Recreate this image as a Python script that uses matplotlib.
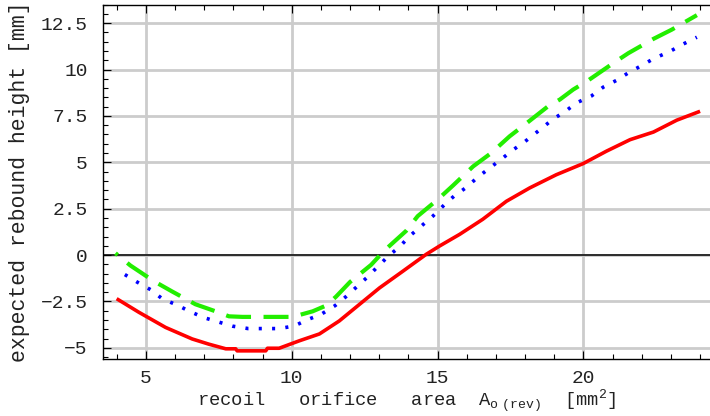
import matplotlib
matplotlib.use("Agg")
import matplotlib.pyplot as plt
import numpy as np

plt.rcParams['font.family'] = ['Liberation Mono', 'DejaVu Sans']
plt.rcParams['lines.scale_dashes'] = False

# solid red curve
red_x = [4.0, 4.76, 5.68, 6.59, 7.16, 7.74, 8.08, 8.13, 9.11, 9.17, 9.57, 10.26, 10.95,
         11.63, 12.32, 13.01, 13.81, 14.61, 15.07, 15.76, 16.55, 17.36, 18.16, 19.07,
         19.99, 20.79, 21.6, 22.4, 23.2, 24.0]
red_y = [-2.35, -3.08, -3.9, -4.52, -4.8, -5.05, -5.05, -5.16, -5.16, -5.02, -5.02, -4.62,
         -4.25, -3.55, -2.66, -1.77, -0.87, 0.04, 0.49, 1.12, 1.93, 2.9, 3.62, 4.33,
         4.93, 5.6, 6.22, 6.63, 7.27, 7.75]

# dashed green curve
green_x = [3.96, 4.47, 5.27, 5.9, 6.7, 7.39, 7.85, 8.31, 9.0, 10.03, 10.72, 11.18, 11.52,
           12.0, 12.72, 13.18, 13.92, 14.32, 15.01, 15.53, 16.22, 16.84, 17.47, 17.99,
           18.79, 19.19, 19.65, 20.17, 21.03, 21.54, 22.4, 23.03, 23.89]
green_y = [0.1, -0.56, -1.4, -1.96, -2.65, -3.03, -3.3, -3.33, -3.33, -3.33, -3.03, -2.72,
           -2.24, -1.45, -0.53, 0.25, 1.3, 2.1, 3.0, 3.75, 4.78, 5.5, 6.4, 7.03, 8.02,
           8.38, 8.92, 9.42, 10.35, 10.88, 11.65, 12.15, 12.93]

# dotted blue curve
blue_x = [4.28, 4.72, 5.17, 5.56, 6.08, 6.5, 6.99, 7.48, 7.97, 8.51, 9.05, 9.57, 10.09,
          10.54, 11.0, 11.49, 11.86, 12.6, 12.95, 13.35, 13.69, 14.04, 14.44, 14.84,
          15.24, 15.56, 15.99, 16.38, 16.81, 17.18, 17.58, 17.99, 18.56, 18.96, 19.36,
          19.76, 20.28, 20.68, 21.14, 21.54, 22.06, 22.4, 22.97, 23.43, 23.89]
blue_y = [-1.05, -1.47, -1.87, -2.35, -2.7, -3.03, -3.37, -3.6, -3.83, -3.96, -3.96,
          -3.96, -3.82, -3.48, -3.2, -2.72, -2.24, -1.18, -0.62, 0.0, 0.43, 1.02, 1.56,
          2.1, 2.72, 3.17, 3.65, 4.2, 4.72, 5.16, 5.66, 6.11, 6.82, 7.33, 7.72, 8.2,
          8.58, 9.05, 9.42, 9.82, 10.27, 10.58, 10.98, 11.38, 11.74]

xticks = [5, 10, 15, 20]
yticks = [-5, -2.5, 0, 2.5, 5, 7.5, 10, 12.5]
ytick_labels = ['\u22125', '\u22122.5', '0', '2.5', '5', '7.5', '10', '12.5']

fig = plt.figure(figsize=(7.1, 4.16), dpi=100)
ax = fig.add_axes([0.145, 0.137, 0.855, 0.852])

ax.plot(red_x, red_y, color='#ff0000', lw=2.6, solid_capstyle='butt', zorder=3)
ax.plot(blue_x, blue_y, color='#0000ff', lw=2.6, dashes=(2.2, 7.4), zorder=3)
ax.plot(green_x, green_y, color='#22ee00', lw=3.0, linestyle=(16, (18, 9)),
        dash_capstyle='butt', zorder=3)

ax.axhline(0, color='black', lw=1.1, zorder=2)

ax.set_xlim(3.53, 24.34)
ax.set_ylim(-5.6, 13.5)
ax.set_xticks(xticks)
ax.set_yticks(yticks)
ax.set_yticklabels(ytick_labels)
ax.set_xticks(np.arange(4, 25, 1), minor=True)
ax.set_yticks(np.arange(-5.5, 13.6, 0.5), minor=True)
ax.grid(True, which='major', color='#cccccc', lw=2.0, zorder=0)
ax.set_axisbelow(True)

ax.tick_params(which='both', direction='in', top=True, right=False, colors='black',
               labelcolor='#222222', labelsize=14)
ax.tick_params(which='major', length=6, width=0.8)
ax.tick_params(which='minor', length=3.5, width=0.8)
ax.tick_params(axis='y', pad=11)
ax.tick_params(axis='x', pad=8)
ax.spines['right'].set_visible(False)
for s in ['left', 'bottom', 'top']:
    ax.spines[s].set_linewidth(1.0)

ax.set_xlabel(r"recoil   orifice   area  $\mathregular{A_{o\ (rev)}}$  [mm$\mathregular{^2}$]",
              fontsize=13.5, color='#222222', labelpad=0)
ax.set_ylabel("expected rebound height [mm]", fontsize=15.5, color='#222222', labelpad=8)

fig.savefig("out.png", dpi=100)
